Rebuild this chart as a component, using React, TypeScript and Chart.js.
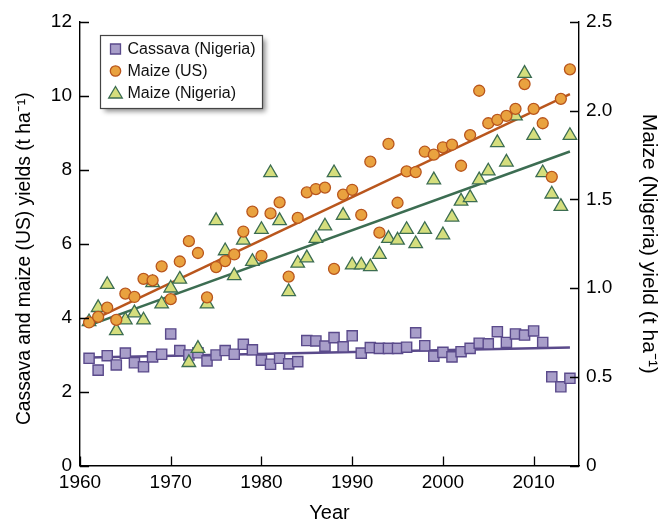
import React, { useEffect, useRef } from 'react';
import { Chart, registerables } from 'chart.js';

Chart.register(...registerables);

const years = [
  1961, 1962, 1963, 1964, 1965, 1966, 1967, 1968, 1969, 1970,
  1971, 1972, 1973, 1974, 1975, 1976, 1977, 1978, 1979, 1980,
  1981, 1982, 1983, 1984, 1985, 1986, 1987, 1988, 1989, 1990,
  1991, 1992, 1993, 1994, 1995, 1996, 1997, 1998, 1999, 2000,
  2001, 2002, 2003, 2004, 2005, 2006, 2007, 2008, 2009, 2010,
  2011, 2012, 2013, 2014,
];

const cassavaNigeria = [
  2.90, 2.58, 2.97, 2.72, 3.04, 2.78, 2.67, 2.94, 3.01, 3.56,
  3.11, 2.99, 3.05, 2.83, 2.99, 3.11, 3.01, 3.28, 3.13, 2.85,
  2.74, 2.90, 2.75, 2.81, 3.38, 3.37, 3.23, 3.46, 3.21, 3.51,
  3.04, 3.19, 3.17, 3.17, 3.17, 3.20, 3.59, 3.24, 2.96, 3.06,
  2.94, 3.08, 3.17, 3.31, 3.29, 3.62, 3.33, 3.56, 3.53, 3.64,
  3.33, 2.40, 2.13, 2.36,
];

const maizeUS = [
  3.87, 4.02, 4.27, 3.94, 4.65, 4.56, 5.05, 5.01, 5.39, 4.50,
  5.52, 6.07, 5.75, 4.55, 5.37, 5.53, 5.71, 6.33, 6.87, 5.67,
  6.82, 7.12, 5.11, 6.70, 7.39, 7.48, 7.52, 5.32, 7.33, 7.46,
  6.78, 8.22, 6.30, 8.70, 7.11, 7.96, 7.94, 8.49, 8.41, 8.61,
  8.68, 8.11, 8.94, 10.14, 9.26, 9.35, 9.46, 9.65, 10.32, 9.65,
  9.26, 7.81, 9.92, 10.72,
];

const maizeNigeria = [
  0.81, 0.89, 1.02, 0.76, 0.82, 0.86, 0.82, 1.03, 0.91, 1.00,
  1.05, 0.58, 0.66, 0.91, 1.38, 1.21, 1.07, 1.27, 1.15, 1.33,
  1.65, 1.38, 0.98, 1.14, 1.17, 1.28, 1.35, 1.65, 1.41, 1.13,
  1.13, 1.12, 1.19, 1.28, 1.27, 1.33, 1.25, 1.33, 1.61, 1.30,
  1.40, 1.49, 1.51, 1.61, 1.66, 1.82, 1.71, 1.97, 2.21, 1.86,
  1.65, 1.53, 1.46, 1.86,
];

const trendYears = [1961, 2014];
const cassavaTrend = [2.92, 3.19];
const maizeUSTrend = [3.89, 10.05];
const maizeNigeriaTrend = [0.79, 1.77];

const xTickValues = [1960, 1970, 1980, 1990, 2000, 2010];
const leftTickValues = [0, 2, 4, 6, 8, 10, 12];
const rightTickValues = [0, 0.5, 1.0, 1.5, 2.0, 2.5];

const seriesNames = ['Cassava (Nigeria)', 'Maize (US)', 'Maize (Nigeria)'];
const xTitle = 'Year';
const leftTitle = 'Cassava and maize (US) yields (t ha\u207B\u00B9)';
const rightTitle = 'Maize (Nigeria) yield (t ha\u207B\u00B9)';

const FONT = "'Liberation Sans', Arial, Helvetica, sans-serif";

const C = {
  cassFill: '#a89ec9',
  cassLine: '#5a4a8b',
  usFill: '#e9a23f',
  usLine: '#b9561d',
  ngFill: '#d5de7d',
  ngLine: '#3c6d52',
};

const pts = (xs: number[], ys: number[]) => xs.map((x, i) => ({ x, y: ys[i] }));

const innerTicksPlugin = {
  id: 'innerTicks',
  afterDatasetsDraw(chart: any) {
    const { ctx, chartArea } = chart;
    const { x, y, y2 } = chart.scales;
    const len = 9;
    ctx.save();
    ctx.strokeStyle = '#000';
    ctx.lineWidth = 1.3;
    ctx.beginPath();
    xTickValues.forEach((v) => {
      const px = Math.round(x.getPixelForValue(v)) + 0.5;
      ctx.moveTo(px, chartArea.bottom);
      ctx.lineTo(px, chartArea.bottom - len);
    });
    leftTickValues.forEach((v) => {
      const py = Math.round(y.getPixelForValue(v)) + 0.5;
      ctx.moveTo(chartArea.left, py);
      ctx.lineTo(chartArea.left + len, py);
    });
    rightTickValues.forEach((v) => {
      const py = Math.round(y2.getPixelForValue(v)) + 0.5;
      ctx.moveTo(chartArea.right, py);
      ctx.lineTo(chartArea.right - len, py);
    });
    ctx.stroke();
    ctx.restore();
  },
};

const leftTitlePlugin = {
  id: 'leftTitle',
  afterDraw(chart: any) {
    const { ctx, chartArea } = chart;
    ctx.save();
    ctx.translate(25, (chartArea.top + chartArea.bottom) / 2 + 15);
    ctx.rotate(-Math.PI / 2);
    ctx.font = `19.3px ${FONT}`;
    ctx.fillStyle = '#000';
    ctx.textAlign = 'center';
    ctx.textBaseline = 'middle';
    ctx.fillText(leftTitle, 0, 0);
    ctx.restore();
  },
};

const boxLegendPlugin = {
  id: 'boxLegend',
  afterDraw(chart: any) {
    const { ctx, chartArea } = chart;
    const bx = chartArea.left + 20.5;
    const by = chartArea.top + 13.5;
    const bw = 162;
    const bh = 73;
    ctx.save();
    ctx.shadowColor = 'rgba(0,0,0,0.45)';
    ctx.shadowBlur = 5;
    ctx.shadowOffsetX = 3;
    ctx.shadowOffsetY = 3;
    ctx.fillStyle = '#ffffff';
    ctx.fillRect(bx, by, bw, bh);
    ctx.shadowColor = 'rgba(0,0,0,0)';
    ctx.shadowBlur = 0;
    ctx.shadowOffsetX = 0;
    ctx.shadowOffsetY = 0;
    ctx.strokeStyle = '#444';
    ctx.lineWidth = 1.2;
    ctx.strokeRect(bx, by, bw, bh);

    const mx = bx + 15;
    const rows = [by + 13.5, by + 35.5, by + 57.5];
    ctx.lineWidth = 1.3;
    ctx.fillStyle = C.cassFill;
    ctx.strokeStyle = C.cassLine;
    ctx.beginPath();
    ctx.rect(mx - 5, rows[0] - 5, 10, 10);
    ctx.fill();
    ctx.stroke();
    ctx.fillStyle = C.usFill;
    ctx.strokeStyle = C.usLine;
    ctx.beginPath();
    ctx.arc(mx, rows[1], 5.2, 0, Math.PI * 2);
    ctx.fill();
    ctx.stroke();
    ctx.fillStyle = C.ngFill;
    ctx.strokeStyle = C.ngLine;
    ctx.beginPath();
    ctx.moveTo(mx, rows[2] - 6.5);
    ctx.lineTo(mx + 6.8, rows[2] + 5);
    ctx.lineTo(mx - 6.8, rows[2] + 5);
    ctx.closePath();
    ctx.fill();
    ctx.stroke();

    ctx.fillStyle = '#111';
    ctx.font = `16px ${FONT}`;
    ctx.textBaseline = 'middle';
    ctx.textAlign = 'left';
    seriesNames.forEach((name, i) => {
      ctx.fillText(name, bx + 27, rows[i] + 1);
    });
    ctx.restore();
  },
};

export default function App() {
  const canvasRef = useRef<HTMLCanvasElement | null>(null);

  useEffect(() => {
    if (!canvasRef.current) return;
    const tickFont = { family: FONT, size: 19 };
    const titleFont = { family: FONT, size: 20 };

    const chart = new Chart(canvasRef.current, {
      type: 'scatter',
      data: {
        datasets: [
          {
            label: seriesNames[0],
            data: pts(years, cassavaNigeria),
            yAxisID: 'y',
            pointStyle: 'rect',
            pointRadius: 7.2,
            pointBackgroundColor: C.cassFill,
            pointBorderColor: C.cassLine,
            pointBorderWidth: 1.4,
            order: 3,
          },
          {
            label: seriesNames[1],
            data: pts(years, maizeUS),
            yAxisID: 'y',
            pointStyle: 'circle',
            pointRadius: 5.5,
            pointBackgroundColor: C.usFill,
            pointBorderColor: C.usLine,
            pointBorderWidth: 1.3,
            order: 1,
          },
          {
            label: seriesNames[2],
            data: pts(years, maizeNigeria),
            yAxisID: 'y2',
            pointStyle: 'triangle',
            pointRadius: 7.8,
            pointBackgroundColor: C.ngFill,
            pointBorderColor: C.ngLine,
            pointBorderWidth: 1.3,
            order: 2,
          },
          {
            label: 'cassava trend',
            data: pts(trendYears, cassavaTrend),
            yAxisID: 'y',
            showLine: true,
            pointRadius: 0,
            borderColor: C.cassLine,
            borderWidth: 2.5,
            order: 4,
          },
          {
            label: 'maize US trend',
            data: pts(trendYears, maizeUSTrend),
            yAxisID: 'y',
            showLine: true,
            pointRadius: 0,
            borderColor: C.usLine,
            borderWidth: 2.5,
            order: 5,
          },
          {
            label: 'maize Nigeria trend',
            data: pts(trendYears, maizeNigeriaTrend),
            yAxisID: 'y2',
            showLine: true,
            pointRadius: 0,
            borderColor: C.ngLine,
            borderWidth: 2.5,
            order: 6,
          },
        ],
      },
      options: {
        responsive: false,
        animation: false,
        layout: { padding: { top: 22, left: 0, right: 0, bottom: 0 } },
        plugins: {
          legend: { display: false },
          tooltip: { enabled: false },
        },
        scales: {
          x: {
            type: 'linear',
            min: 1960,
            max: 2015,
            afterFit: (s: any) => { s.height = 59.5; },
            afterBuildTicks: (s: any) => { s.ticks = xTickValues.map((v) => ({ value: v })); },
            grid: { display: true, drawOnChartArea: false, drawTicks: false },
            border: { display: true, color: '#000', width: 1.4 },
            ticks: {
              font: tickFont,
              color: '#000',
              padding: 6,
              autoSkip: false,
              maxRotation: 0,
              callback: (v: any) => String(v),
            },
            title: {
              display: true,
              text: xTitle,
              font: titleFont,
              color: '#000',
              padding: { top: 0, bottom: 0 },
            },
          },
          y: {
            type: 'linear',
            position: 'left',
            min: 0,
            max: 12,
            afterFit: (s: any) => { s.width = 80; },
            afterBuildTicks: (s: any) => { s.ticks = leftTickValues.map((v) => ({ value: v })); },
            grid: { display: true, drawOnChartArea: false, drawTicks: false },
            border: { display: true, color: '#000', width: 1.4 },
            ticks: {
              font: tickFont,
              color: '#000',
              padding: 8,
              autoSkip: false,
              callback: (v: any) => String(v),
            },
            title: { display: false },
          },
          y2: {
            type: 'linear',
            position: 'right',
            min: 0,
            max: 2.5,
            afterFit: (s: any) => { s.width = 86; },
            afterBuildTicks: (s: any) => { s.ticks = rightTickValues.map((v) => ({ value: v })); },
            grid: { display: true, drawOnChartArea: false, drawTicks: false },
            border: { display: true, color: '#000', width: 1.4 },
            ticks: {
              font: tickFont,
              color: '#000',
              padding: 7,
              autoSkip: false,
              callback: (v: any) => (Number(v) === 0 ? '0' : Number(v).toFixed(1)),
            },
            title: {
              display: true,
              text: rightTitle,
              font: { family: FONT, size: 21 },
              color: '#000',
              padding: { top: 4, bottom: 0 },
            },
          },
        },
      },
      plugins: [innerTicksPlugin, leftTitlePlugin, boxLegendPlugin],
    } as any);

    return () => chart.destroy();
  }, []);

  return (
    <div style={{ position: 'fixed', left: 0, top: 0, width: 665, height: 525, background: '#fff' }}>
      <canvas ref={canvasRef} width={665} height={525} style={{ display: 'block' }} />
    </div>
  );
}
